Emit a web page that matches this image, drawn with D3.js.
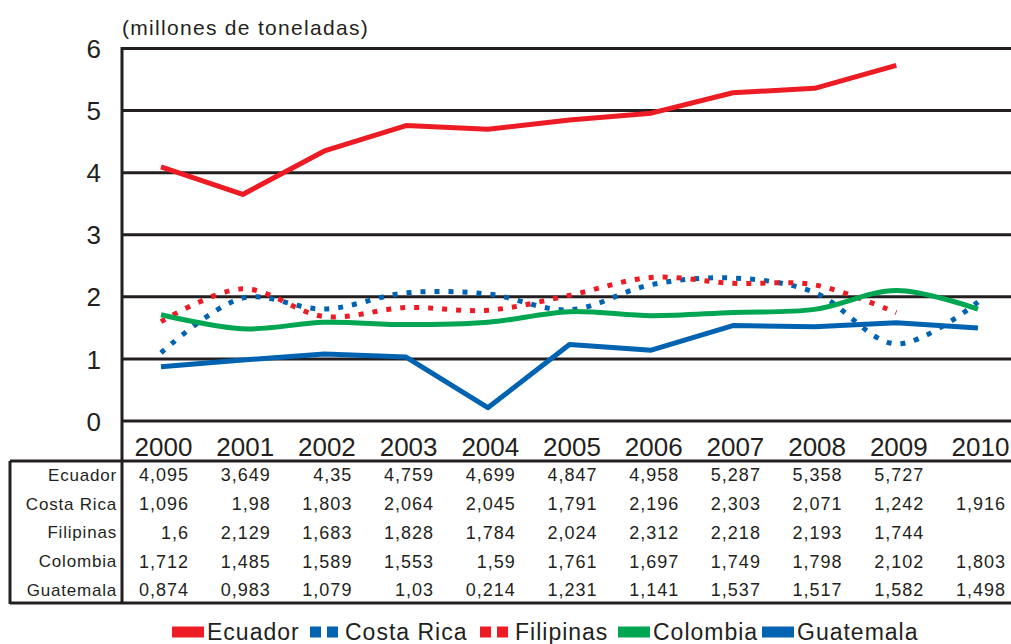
<!DOCTYPE html>
<html><head><meta charset="utf-8">
<script src="https://cdn.jsdelivr.net/npm/d3@7"></script>
<style>
body{margin:0;background:#fff;}
svg text{font-family:"Liberation Sans",Arial,sans-serif;fill:#231f20;}
</style></head>
<body>
<svg id="c" width="1011" height="644"></svg>
<script>
const years = ["2000","2001","2002","2003","2004","2005","2006","2007","2008","2009","2010"];
const yTicks = [0,1,2,3,4,5,6];
const ecuador   = [4.095,3.649,4.35,4.759,4.699,4.847,4.958,5.287,5.358,5.727,null];
const costaRica = [1.096,1.98,1.803,2.064,2.045,1.791,2.196,2.303,2.071,1.242,1.916];
const filipinas = [1.6,2.129,1.683,1.828,1.784,2.024,2.312,2.218,2.193,1.744,null];
const colombia  = [1.712,1.485,1.589,1.553,1.59,1.761,1.697,1.749,1.798,2.102,1.803];
const guatemala = [0.874,0.983,1.079,1.03,0.214,1.231,1.141,1.537,1.517,1.582,1.498];
const seriesNames = ["Ecuador","Costa Rica","Filipinas","Colombia","Guatemala"];
const yTitle = "(millones de toneladas)";

const series = [
  {name:"Ecuador", values:ecuador, color:"#ED1C24", dash:null, curve:d3.curveLinear},
  {name:"Costa Rica", values:costaRica, color:"#0063B1", dash:"5,9", curve:d3.curveCatmullRom},
  {name:"Filipinas", values:filipinas, color:"#ED1C24", dash:"5,9", curve:d3.curveCatmullRom},
  {name:"Colombia", values:colombia, color:"#00A651", dash:null, curve:d3.curveCatmullRom},
  {name:"Guatemala", values:guatemala, color:"#0063B1", dash:null, curve:d3.curveLinear}
];
const fmt = v => v==null ? "" : String(v).replace(".", ",");

const svg = d3.select("#c");
const x = d3.scalePoint().domain(years).range([161,978]);
const y = d3.scaleLinear().domain([0,6]).range([421,48.5]);
const ink = "#231f20";

// gridlines
svg.append("g").selectAll("line").data(yTicks).join("line")
  .attr("x1",122).attr("x2",1011).attr("y1",d=>y(d)).attr("y2",d=>y(d))
  .attr("stroke",ink).attr("stroke-width",3);

// y axis labels
const yAxis = d3.axisLeft(y).tickValues(yTicks).tickSize(0).tickPadding(0).tickFormat(d3.format("d"));
const ga = svg.append("g").attr("transform","translate(101,0)").call(yAxis);
ga.select(".domain").remove();
ga.selectAll("text").attr("font-size",26).attr("font-family","Liberation Sans, Arial, sans-serif").attr("dy","0.35em").style("fill",ink);

// title
svg.append("text").attr("x",122).attr("y",35).attr("font-size",21).attr("letter-spacing",1.3).text(yTitle);

// x axis labels
const xAxis = d3.axisBottom(x).tickSize(0).tickPadding(0);
const gx = svg.append("g").attr("transform","translate(2,447)").call(xAxis);
gx.select(".domain").remove();
gx.selectAll("text").attr("font-size",26).attr("font-family","Liberation Sans, Arial, sans-serif").attr("dy","0.35em").style("fill",ink);

// left vertical frame line
svg.append("line").attr("x1",122).attr("x2",122).attr("y1",47).attr("y2",604).attr("stroke",ink).attr("stroke-width",3);

// lines
series.forEach(s=>{
  const line = d3.line().defined(d=>d.v!=null).x(d=>x(d.k)).y(d=>y(d.v)).curve(s.curve);
  svg.append("path").datum(years.map((k,i)=>({k,v:s.values[i]})))
    .attr("d",line).attr("fill","none").attr("stroke",s.color).attr("stroke-width",5)
    .attr("stroke-dasharray",s.dash).attr("stroke-linejoin","round");
});

// table
svg.append("line").attr("x1",10).attr("x2",1011).attr("y1",461).attr("y2",461).attr("stroke",ink).attr("stroke-width",3);
svg.append("line").attr("x1",10).attr("x2",1011).attr("y1",603).attr("y2",603).attr("stroke",ink).attr("stroke-width",3);
svg.append("line").attr("x1",10).attr("x2",10).attr("y1",461).attr("y2",604).attr("stroke",ink).attr("stroke-width",3);

const rowY = d3.scalePoint().domain(seriesNames).range([475,590]);
series.forEach(s=>{
  svg.append("text").attr("x",117).attr("y",rowY(s.name)).attr("dy","0.35em")
    .attr("text-anchor","end").attr("font-size",17).attr("letter-spacing",0.8).text(s.name);
  svg.append("g").selectAll("text").data(years.map((k,i)=>({k,v:s.values[i]}))).join("text")
    .attr("x",d=>x(d.k)+28).attr("y",rowY(s.name)).attr("dy","0.35em")
    .attr("text-anchor","end").attr("font-size",18).attr("letter-spacing",1).text(d=>fmt(d.v));
});

// legend
const legX = [172,310,480,618,762];
series.forEach((s,i)=>{
  const g = svg.append("g");
  g.append("line").attr("x1",legX[i]).attr("x2",legX[i]+32).attr("y1",632).attr("y2",632)
    .attr("stroke",s.color).attr("stroke-width",11).attr("stroke-dasharray",s.dash ? "11,6" : null);
  g.append("text").attr("x",legX[i]+35).attr("y",632).attr("dy","0.35em").attr("font-size",23).attr("letter-spacing",1).text(s.name);
});
</script>
</body></html>
